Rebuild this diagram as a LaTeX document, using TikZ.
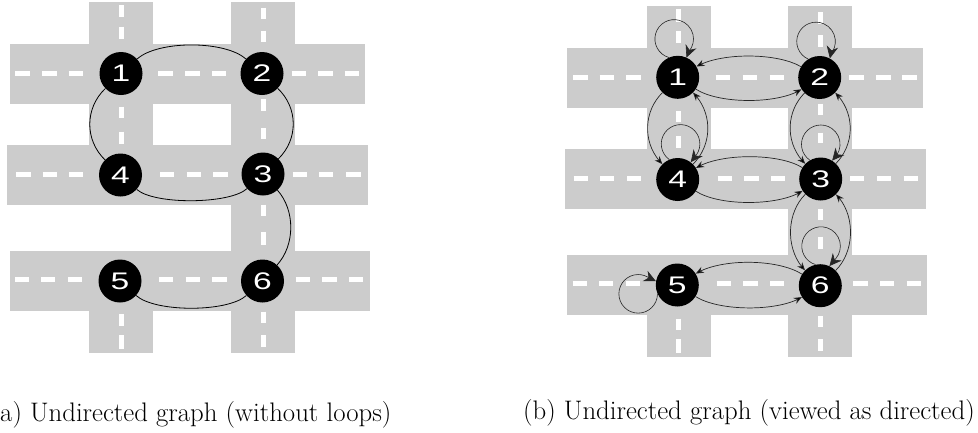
\documentclass[tikz,border=0pt]{standalone}
\usepackage{fontspec}
\usetikzlibrary{arrows.meta,bending}
\newfontfamily\digitfont[FakeStretch=1.4]{Liberation Sans}
\tikzset{
  road/.style={fill=black!20,draw=none},
  lane/.style={draw=white,line width=5pt},
  city/.style={circle,fill=black,text=white,minimum size=43pt,inner sep=0pt,font=\digitfont\fontsize{24}{24}\selectfont},
  street/.style={draw=black,line width=0.8pt},
  oneway/.style={draw=black!85,line width=0.7pt,-{Stealth[length=8pt,width=6.5pt,flex]}},
  selfway/.style={draw=black!85,line width=0.6pt,-{Stealth[length=12pt,width=11.5pt,flex,color=black!85]}},
  caption/.style={anchor=base west,inner sep=0pt,font=\fontsize{26.8}{30}\selectfont}
}
% Road network: three east-west roads, two north-south roads, white lane markings
\newcommand{\roadnet}{%
  \fill[road] (89,1.5) rectangle (153,353);
  \fill[road] (230.7,1.5) rectangle (294.7,353);
  \fill[white] (89,204.7) rectangle (230.7,251);
  \fill[road] (9.5,44) rectangle (365,104);
  \fill[road] (7,145) rectangle (368,204.7);
  \fill[road] (9.5,251) rectangle (369.5,310.7);
  \foreach \a/\b in {15.3/30,42/56.7,68.7/83.3,158/172.7,185/199.7,212/226,291.7/306,318.3/333,344.7/359}
    \draw[lane] (\a,73) -- (\b,73);
  \foreach \a/\b in {16/30.7,42.7/56.7,69.3/83.3,160/174.3,186.7/201,213.3/227.7,292.7/306.7,319.3/333,346/360.7}
    \draw[lane] (\a,174) -- (\b,174);
  \foreach \a/\b in {15/29.3,41.3/55.3,68/82,159/173.3,185.7/200,212.3/226.7,295.7/310,322.3/336.7,349/363.3}
    \draw[lane] (\a,279) -- (\b,279);
  \foreach \a/\b in {5/17.3,26.7/39,106.7/118,131.7/143.7,314.3/326,335/348.7}
    \draw[lane] (121,\a) -- (121,\b);
  \foreach \a/\b in {7.7/19.3,30.7/42.3,99.3/110.7,128.3/139,204.7/215.7,232.3/244.7,311.7/323,335/346.7}
    \draw[lane] (263,\a) -- (263,\b);
}
\begin{document}
\begin{tikzpicture}[x=1pt,y=-1pt]
\useasboundingbox (0,0) rectangle (978,432);
\roadnet
\begin{scope}[shift={(557.6,4.2)}]
  \roadnet
\end{scope}

% Undirected graph
\node[city] (a1) at (121,73.5) {1};
\node[city] (a2) at (262,73.5) {2};
\node[city] (a3) at (263,174) {3};
\node[city] (a4) at (120.5,175) {4};
\node[city] (a5) at (120,281) {5};
\node[city] (a6) at (262.5,281) {6};
\path[street]
  (a1) edge[bend left=42,looseness=.66] (a2)
  (a1) edge[bend right=46,looseness=1.02] (a4)
  (a2) edge[bend left=46,looseness=1.02] (a3)
  (a4) edge[bend right=42,looseness=.54] (a3)
  (a3) edge[bend left=42,looseness=.92] (a6)
  (a5) edge[bend right=42,looseness=.59] (a6);

% Directed view of the same graph
\node[city] (b1) at (677.7,77.3) {1};
\node[city] (b2) at (819.7,77.5) {2};
\node[city] (b3) at (820.7,179) {3};
\node[city] (b4) at (677.7,179.5) {4};
\node[city] (b5) at (677.3,285) {5};
\node[city] (b6) at (820.3,285.7) {6};
\path[oneway]
  (b2) edge[bend right=30,looseness=.69] (b1)
  (b1) edge[bend right=33,looseness=.67] (b2)
  (b3) edge[bend right=32,looseness=.67] (b4)
  (b4) edge[bend right=33,looseness=.67] (b3)
  (b6) edge[bend right=32,looseness=.7] (b5)
  (b5) edge[bend right=32,looseness=.67] (b6)
  (b1) edge[bend right=45,looseness=1] (b4)
  (b4) edge[bend right=45,looseness=1] (b1)
  (b2) edge[bend right=45,looseness=1] (b3)
  (b3) edge[bend right=45,looseness=1] (b2)
  (b3) edge[bend right=45,looseness=.93] (b6)
  (b6) edge[bend right=45,looseness=.93] (b3);

% Self-loops: a circular arc leaving the node, closed by a short run into its border
\draw[selfway] (b1.114) arc[start angle=254,end angle=-40,radius=19.3pt] -- (b1.66);
\draw[selfway] (b2.122) arc[start angle=246,end angle=-40,radius=19.3pt] -- (b2.62);
\draw[selfway] (b4.113) arc[start angle=234,end angle=-35,radius=19.3pt] -- (b4.53);
\draw[selfway] (b3.120) arc[start angle=235.5,end angle=-35,radius=19.3pt] -- (b3.58);
\draw[selfway] (b6.103.5) arc[start angle=253,end angle=-40,radius=19.3pt] -- (b6.65);
\draw[selfway] (b5.204) arc[start angle=0,end angle=-305,radius=19.3pt] -- (b5.170);

\node[caption] (capa) at (0,421) {a) Undirected graph (without loops)};
\node[caption] (capb) at (523,419) {(b) Undirected graph (viewed as directed)};
\end{tikzpicture}
\end{document}
